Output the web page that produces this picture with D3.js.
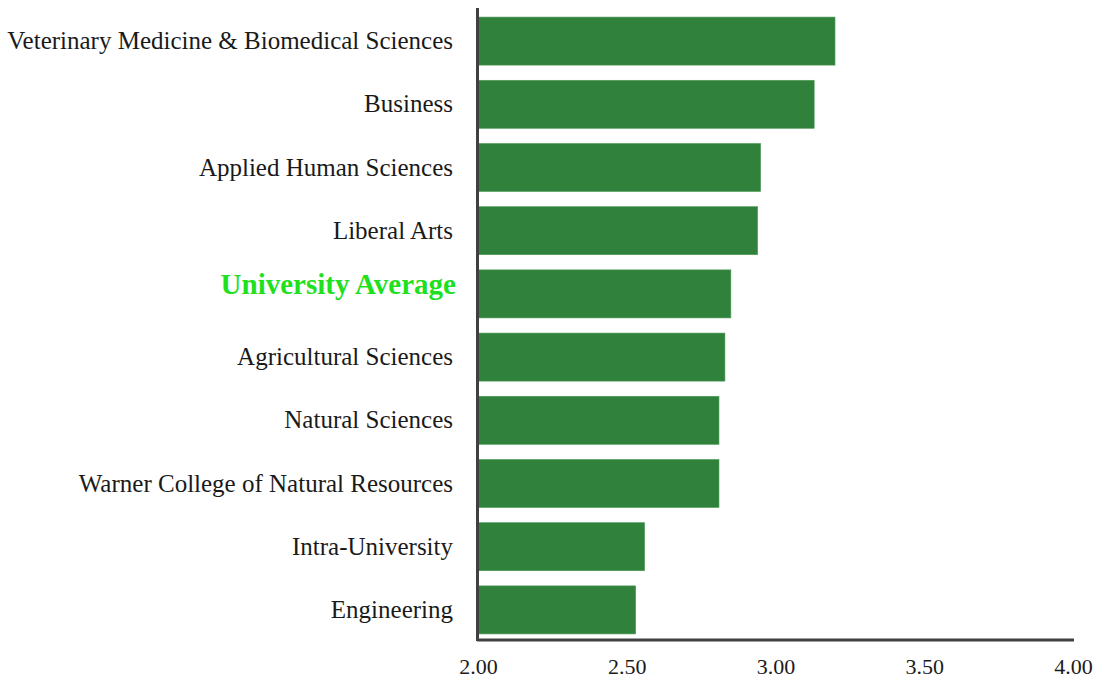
<!DOCTYPE html>
<html><head><meta charset="utf-8">
<script src="https://cdn.jsdelivr.net/npm/d3@7"></script>
<style>body{margin:0;background:#fff}svg{display:block}</style>
</head><body>
<svg id="chart" width="1099" height="679"></svg>
<script>
const categories = ["Veterinary Medicine & Biomedical Sciences","Business","Applied Human Sciences","Liberal Arts","University Average","Agricultural Sciences","Natural Sciences","Warner College of Natural Resources","Intra-University","Engineering"];
const values = [3.20, 3.13, 2.95, 2.94, 2.85, 2.83, 2.81, 2.81, 2.56, 2.53];
const tickValues = [2.00, 2.50, 3.00, 3.50, 4.00];
const highlight = "University Average";

const svg = d3.select("#chart");
const x = d3.scaleLinear().domain([2, 4]).range([478, 1073]);
const y = d3.scaleBand().domain(categories).range([9.5, 641.5]).paddingInner(0.24).paddingOuter(0.12);

svg.append("g").selectAll("rect").data(categories).join("rect")
  .attr("x", x(2)).attr("y", d => y(d))
  .attr("width", (d,i) => x(values[i]) - x(2))
  .attr("height", y.bandwidth())
  .attr("fill", "#30813b").attr("stroke", "#4d9a57").attr("stroke-width", 0.6);

svg.append("g").selectAll("text").data(categories).join("text")
  .attr("x", d => d === highlight ? 456 : 453)
  .attr("y", d => y(d) + y.bandwidth()/2)
  .attr("dy", d => d === highlight ? "0em" : "0.32em")
  .attr("text-anchor", "end")
  .style("font-family", "'Liberation Serif', 'Times New Roman', serif")
  .style("font-size", d => d === highlight ? "29px" : "25px")
  .style("font-weight", d => d === highlight ? "bold" : "normal")
  .attr("fill", d => d === highlight ? "#1ee01e" : "#1a1a1a")
  .text(d => d);

const xAxis = d3.axisBottom(x).tickValues(tickValues).tickFormat(d3.format(".2f")).tickSize(0).tickPadding(18);
const gx = svg.append("g").attr("transform", "translate(0,640)").call(xAxis);
gx.attr("font-family", null).attr("font-size", null);
gx.select(".domain").attr("stroke", "#404040").attr("stroke-width", 3).attr("d", `M${x(2)-1},0H${x(4)+1}`);
gx.selectAll("text")
  .style("font-family", "'Liberation Serif', 'Times New Roman', serif")
  .style("font-size", "22px").attr("fill", "#1a1a1a");

svg.append("line").attr("x1", 477.5).attr("x2", 477.5).attr("y1", 8).attr("y2", 641)
  .attr("stroke", "#404040").attr("stroke-width", 3);
</script>
</body></html>
